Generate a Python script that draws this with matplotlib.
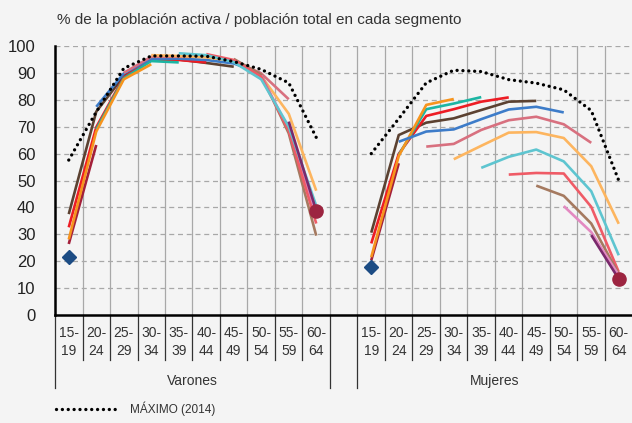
import numpy as np
import matplotlib
matplotlib.use("Agg")
import matplotlib.pyplot as plt
from matplotlib.lines import Line2D
import matplotlib.transforms as mtransforms
from matplotlib import font_manager

N = np.nan

# ---------------- data ----------------
age_groups = ["15-\n19", "20-\n24", "25-\n29", "30-\n34", "35-\n39",
              "40-\n44", "45-\n49", "50-\n54", "55-\n59", "60-\n64"]
group_names = ["Varones", "Mujeres"]
title_text = "% de la población activa / población total en cada segmento"
legend_label = "MÁXIMO (2014)"

# Varones (men) cohort series
men_max         = [57.6, 75.5, 91.7, 96.3, 96.3, 96.2, 94.2, 91.3, 86.3, 66.0]
men_brown       = [37.5, 75.6, 88.8, 95.2, 95.0, 93.7, 92.3, N, N, N]
men_red         = [32.6, 69.8, 88.4, 95.0, 94.8, 93.9, N, N, N, N]
men_orange      = [28.1, 68.2, 87.6, 93.2, N, N, N, N, N, N]
men_darkred     = [26.4, 63.2, N, N, N, N, N, N, N, N]
men_teal        = [N, 69.0, 88.0, 94.4, 93.9, N, N, N, N, N]
men_blue        = [N, 77.4, 89.8, 95.3, 95.3, 94.8, 93.5, 89.8, N, N]
men_dustypink   = [N, N, 90.0, 96.0, 96.0, 96.0, 94.5, 89.8, 80.2, N]
men_lightorange = [N, N, N, 96.6, 96.3, 95.8, 94.5, 88.8, 74.8, 46.2]
men_cyan        = [N, N, N, N, 97.3, 96.6, 94.0, 87.6, 70.0, 40.6]
men_coral       = [N, N, N, N, N, 97.0, 94.8, 88.6, 68.5, 34.0]
men_tan         = [N, N, N, N, N, N, 95.2, 89.3, 67.5, 29.5]
men_pink        = [N, N, N, N, N, N, N, 89.0, 69.0, 36.0]
men_purple      = [N, N, N, N, N, N, N, N, 71.9, 38.7]
men_first = 21.7   # newest cohort, 15-19
men_last = 38.7    # oldest cohort, 60-64

# Mujeres (women) cohort series
women_max         = [60.0, 73.0, 86.3, 91.0, 90.5, 87.5, 86.2, 83.7, 76.0, 50.0]
women_brown       = [30.6, 66.9, 71.5, 73.1, 76.2, 79.3, 79.6, N, N, N]
women_red         = [26.6, 59.9, 74.0, 76.5, 79.3, 80.9, N, N, N, N]
women_orange      = [21.5, 59.1, 78.1, 80.3, N, N, N, N, N, N]
women_darkred     = [20.3, 56.4, N, N, N, N, N, N, N, N]
women_teal        = [N, 59.5, 76.5, 78.6, 81.0, N, N, N, N, N]
women_blue        = [N, 64.4, 68.2, 69.0, 72.8, 76.4, 77.4, 75.3, N, N]
women_dustypink   = [N, N, 62.6, 63.6, 68.8, 72.4, 73.7, 70.9, 64.0, N]
women_lightorange = [N, N, N, 57.9, 62.9, 67.8, 68.0, 65.8, 55.3, 33.9]
women_cyan        = [N, N, N, N, 54.7, 58.8, 61.5, 57.1, 46.0, 22.2]
women_coral       = [N, N, N, N, N, 52.2, 52.8, 52.6, 40.2, 16.0]
women_tan         = [N, N, N, N, N, N, 48.1, 44.3, 34.0, 15.2]
women_pink        = [N, N, N, N, N, N, N, 40.5, 30.8, 14.8]
women_purple      = [N, N, N, N, N, N, N, N, 29.7, 13.4]
women_first = 17.8
women_last = 13.4

# ---------------- style ----------------
cohort_colors = {
    "brown": "#5b4131", "red": "#ed1c24", "darkred": "#a31f3a",
    "orange": "#f7941d", "teal": "#1cb5a3", "blue": "#3d7cc9",
    "dustypink": "#d8707f", "lightorange": "#fdb55f", "cyan": "#5ec5d0",
    "coral": "#ef5b66", "tan": "#a57a60", "pink": "#e389c1",
    "purple": "#7a2a6c",
}
men_series = [("brown", men_brown), ("red", men_red), ("darkred", men_darkred),
              ("teal", men_teal), ("orange", men_orange), ("blue", men_blue),
              ("dustypink", men_dustypink), ("lightorange", men_lightorange),
              ("tan", men_tan), ("pink", men_pink), ("coral", men_coral),
              ("cyan", men_cyan), ("purple", men_purple)]
women_series = [("brown", women_brown), ("red", women_red), ("darkred", women_darkred),
                ("teal", women_teal), ("orange", women_orange), ("blue", women_blue),
                ("dustypink", women_dustypink), ("lightorange", women_lightorange),
                ("cyan", women_cyan), ("coral", women_coral), ("tan", women_tan),
                ("pink", women_pink), ("purple", women_purple)]


def pick_font(names):
    for n in names:
        try:
            font_manager.findfont(n, fallback_to_default=False)
            return n
        except Exception:
            continue
    return "DejaVu Sans"


base_font = pick_font(["Liberation Sans", "Arial", "DejaVu Sans"])
plt.rcParams["font.family"] = [base_font, "DejaVu Sans"]

BG = "#f4f4f4"
W, H = 632, 423
fig = plt.figure(figsize=(W / 100, H / 100), dpi=100, facecolor=BG)

ax_left, ax_right = 55, 632.5
ax_top, ax_bottom = 46, 315
ax = fig.add_axes([ax_left / W, 1 - ax_bottom / H,
                   (ax_right - ax_left) / W, (ax_bottom - ax_top) / H])
ax.set_facecolor(BG)

n_cat = len(age_groups)
women_offset = n_cat + 1
x_men = np.arange(n_cat)
x_women = np.arange(n_cat) + women_offset

ax.set_xlim(-0.5, 2 * n_cat + 0.5)
ax.set_ylim(0, 100)

# grid
for yv in range(10, 101, 10):
    ax.axhline(yv, color="#a8a8a8", lw=0.9, ls=(0, (4, 3)), zorder=1)
for xb in np.arange(0.5, 2 * n_cat + 0.5, 1.0):
    ax.axvline(xb, color="#a8a8a8", lw=0.9, zorder=1)

# cohort lines
for name, vals in men_series:
    ax.plot(x_men, np.array(vals, dtype=float), color=cohort_colors[name],
            lw=1.9, solid_capstyle="butt", zorder=3)
for name, vals in women_series:
    ax.plot(x_women, np.array(vals, dtype=float), color=cohort_colors[name],
            lw=1.9, solid_capstyle="butt", zorder=3)

# maximum dotted line
dot_style = dict(color="black", lw=2.4, ls=(0, (0.01, 1.75)),
                 dash_capstyle="round", zorder=4)
ax.plot(x_men, men_max, **dot_style)
ax.plot(x_women, women_max, **dot_style)

# markers
ax.plot([x_men[0]], [men_first], marker="D", ms=7, color="#1c4c84", zorder=5, ls="none")
ax.plot([x_women[0]], [women_first], marker="D", ms=7, color="#1c4c84", zorder=5, ls="none")
ax.plot([x_men[-1]], [men_last], marker="o", ms=9.5, color="#9c2440", zorder=5, ls="none")
ax.plot([x_women[-1]], [women_last], marker="o", ms=9.5, color="#9c2440", zorder=5, ls="none")

# spines / ticks
for s in ["top", "right"]:
    ax.spines[s].set_visible(False)
for s in ["left", "bottom"]:
    ax.spines[s].set_linewidth(1.8)
    ax.spines[s].set_color("black")
    ax.spines[s].set_zorder(6)
ax.set_yticks(range(0, 101, 10))
ax.tick_params(axis="y", length=0, pad=14, labelsize=12, labelcolor="#222222")
ax.set_xticks([])

# category labels and separators beneath the axis
ax_h = ax_bottom - ax_top
trans = mtransforms.blended_transform_factory(ax.transData, ax.transAxes)
short_y = -(360 - ax_bottom) / ax_h
long_y = -(388 - ax_bottom) / ax_h
lab_y = -(342 - ax_bottom) / ax_h
grp_y = -(381 - ax_bottom) / ax_h

for xs in (x_men, x_women):
    for i, xc in enumerate(xs):
        ax.text(xc, lab_y, age_groups[i], transform=trans, ha="center", va="center",
                fontsize=10, color="#333333", linespacing=1.3)
    for xb in np.arange(xs[0] + 0.5, xs[-1] + 0.5, 1.0):
        ax.add_line(Line2D([xb, xb], [0, short_y], transform=trans, color="#333333",
                           lw=0.9, clip_on=False))
for xb in [-0.5, n_cat - 0.5, n_cat + 0.5]:
    ax.add_line(Line2D([xb, xb], [0, long_y], transform=trans, color="#333333",
                       lw=0.9, clip_on=False))

ax.text((x_men[0] + x_men[-1]) / 2, grp_y, group_names[0], transform=trans,
        ha="center", va="center", fontsize=10, color="#333333")
ax.text((x_women[0] + x_women[-1]) / 2, grp_y, group_names[1], transform=trans,
        ha="center", va="center", fontsize=10, color="#333333")

# title
fig.text(57 / W, 1 - 20 / H, title_text, ha="left", va="center",
         fontsize=11, color="#333333")

# legend (manual)
leg_y = 1 - 409 / H
fig.add_artist(Line2D([56 / W, 120 / W], [leg_y, leg_y], transform=fig.transFigure,
                      color="black", lw=2.4, ls=(0, (0.01, 1.75)), dash_capstyle="round"))
fig.text(130 / W, leg_y, legend_label, ha="left", va="center", fontsize=8.5,
         color="#333333")

fig.savefig("out.png", dpi=100, facecolor=BG)
